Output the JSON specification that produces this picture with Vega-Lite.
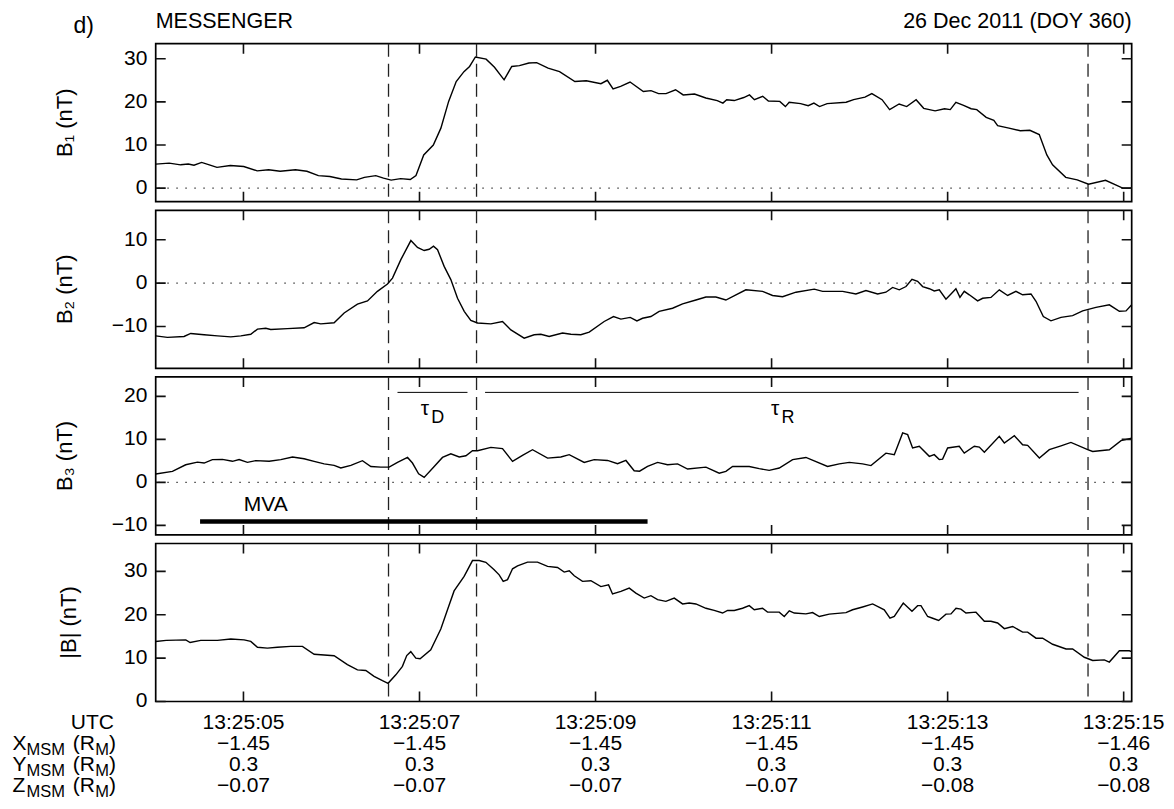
{
  "$schema": "https://vega.github.io/schema/vega-lite/v6.json",
  "background": "white",
  "padding": {"left": 11.7, "top": 9.7, "right": 10, "bottom": 5},
  "bounds": "flush",
  "spacing": 8.6,
  "datasets": {
    "zero": [{"v": 0}],
    "dashes": [{"t": 6.648}, {"t": 7.648}, {"t": 14.595}],
    "tickTimes": [{"t": 5.0}, {"t": 7.0}, {"t": 9.0}, {"t": 11.0}, {"t": 13.0}, {"t": 15.0}],
    "tickVals1": [{"v": 0.0}, {"v": 10.0}, {"v": 20.0}, {"v": 30.0}],
    "tickVals2": [{"v": -10.0}, {"v": 0.0}, {"v": 10.0}],
    "tickVals3": [{"v": -10.0}, {"v": 0.0}, {"v": 10.0}, {"v": 20.0}],
    "lab1": [{"v": 0}, {"v": 10}, {"v": 20}, {"v": 30}],
    "lab2": [{"v": -10}, {"v": 0}, {"v": 10}],
    "lab3": [{"v": -10}, {"v": 0}, {"v": 10}, {"v": 20}],
    "b1": [
      {"t":4.003,"v":5.56},{"t":4.156,"v":5.8},{"t":4.286,"v":5.4},{"t":4.373,"v":5.6},{"t":4.438,"v":5.3},{"t":4.525,"v":5.95},{"t":4.612,"v":5.4},{"t":4.699,"v":4.8},{"t":4.851,"v":5.25},{"t":5.003,"v":5.0},{"t":5.156,"v":4.0},{"t":5.286,"v":4.25},{"t":5.417,"v":3.9},{"t":5.591,"v":4.25},{"t":5.721,"v":3.9},{"t":5.851,"v":2.9},{"t":5.982,"v":2.7},{"t":6.113,"v":2.1},{"t":6.286,"v":1.9},{"t":6.374,"v":2.5},{"t":6.503,"v":2.9},{"t":6.591,"v":2.3},{"t":6.678,"v":1.85},{"t":6.786,"v":2.2},{"t":6.895,"v":2.0},{"t":6.96,"v":2.9},{"t":7.048,"v":7.7},{"t":7.157,"v":10.0},{"t":7.243,"v":13.9},{"t":7.331,"v":20.1},{"t":7.417,"v":24.7},{"t":7.505,"v":27.0},{"t":7.569,"v":28.2},{"t":7.635,"v":30.4},{"t":7.757,"v":29.9},{"t":7.852,"v":28.0},{"t":7.961,"v":25.1},{"t":8.048,"v":28.2},{"t":8.135,"v":28.4},{"t":8.243,"v":29.0},{"t":8.331,"v":29.1},{"t":8.461,"v":27.8},{"t":8.591,"v":27.0},{"t":8.765,"v":24.7},{"t":8.895,"v":24.9},{"t":9.061,"v":24.2},{"t":9.134,"v":25.0},{"t":9.199,"v":23.0},{"t":9.285,"v":23.6},{"t":9.392,"v":24.6},{"t":9.543,"v":22.4},{"t":9.63,"v":22.6},{"t":9.716,"v":21.9},{"t":9.801,"v":21.9},{"t":9.909,"v":22.8},{"t":9.996,"v":21.6},{"t":10.124,"v":21.8},{"t":10.253,"v":20.9},{"t":10.383,"v":20.3},{"t":10.447,"v":19.7},{"t":10.49,"v":20.5},{"t":10.576,"v":20.3},{"t":10.684,"v":21.0},{"t":10.749,"v":21.6},{"t":10.805,"v":20.5},{"t":10.899,"v":21.3},{"t":10.964,"v":20.2},{"t":11.093,"v":20.1},{"t":11.157,"v":18.9},{"t":11.2,"v":19.9},{"t":11.33,"v":19.6},{"t":11.416,"v":19.1},{"t":11.481,"v":19.7},{"t":11.545,"v":18.9},{"t":11.631,"v":19.6},{"t":11.847,"v":19.9},{"t":11.932,"v":20.5},{"t":12.061,"v":21.1},{"t":12.139,"v":21.9},{"t":12.255,"v":20.5},{"t":12.341,"v":18.2},{"t":12.449,"v":19.5},{"t":12.535,"v":18.9},{"t":12.642,"v":20.5},{"t":12.728,"v":18.5},{"t":12.858,"v":17.9},{"t":12.965,"v":18.4},{"t":13.03,"v":18.2},{"t":13.094,"v":19.9},{"t":13.181,"v":19.2},{"t":13.267,"v":18.4},{"t":13.331,"v":18.2},{"t":13.438,"v":16.4},{"t":13.525,"v":15.7},{"t":13.568,"v":14.5},{"t":13.697,"v":13.9},{"t":13.826,"v":13.3},{"t":13.934,"v":13.4},{"t":14.041,"v":12.4},{"t":14.127,"v":7.7},{"t":14.192,"v":5.4},{"t":14.342,"v":2.5},{"t":14.472,"v":1.9},{"t":14.601,"v":0.9},{"t":14.794,"v":1.8},{"t":14.989,"v":0.0},{"t":15.091,"v":0.0}
    ],
    "b2": [
      {"t":4.003,"v":-12.15},{"t":4.136,"v":-12.5},{"t":4.325,"v":-12.3},{"t":4.401,"v":-11.6},{"t":4.553,"v":-11.9},{"t":4.705,"v":-12.15},{"t":4.856,"v":-12.4},{"t":4.97,"v":-12.15},{"t":5.083,"v":-11.8},{"t":5.159,"v":-10.6},{"t":5.254,"v":-10.4},{"t":5.31,"v":-10.7},{"t":5.5,"v":-10.5},{"t":5.689,"v":-10.3},{"t":5.803,"v":-9.1},{"t":5.878,"v":-9.4},{"t":6.03,"v":-9.15},{"t":6.144,"v":-6.9},{"t":6.295,"v":-4.85},{"t":6.409,"v":-4.1},{"t":6.522,"v":-1.9},{"t":6.636,"v":-0.2},{"t":6.693,"v":1.15},{"t":6.788,"v":5.4},{"t":6.902,"v":9.8},{"t":6.977,"v":8.2},{"t":7.053,"v":7.5},{"t":7.11,"v":7.8},{"t":7.159,"v":8.5},{"t":7.205,"v":7.7},{"t":7.28,"v":3.85},{"t":7.356,"v":0.8},{"t":7.432,"v":-3.5},{"t":7.508,"v":-6.5},{"t":7.583,"v":-8.6},{"t":7.659,"v":-9.2},{"t":7.811,"v":-9.4},{"t":7.943,"v":-8.85},{"t":8.038,"v":-10.8},{"t":8.189,"v":-12.7},{"t":8.303,"v":-11.9},{"t":8.379,"v":-11.8},{"t":8.473,"v":-12.3},{"t":8.625,"v":-11.5},{"t":8.72,"v":-11.8},{"t":8.833,"v":-11.9},{"t":8.928,"v":-11.3},{"t":9.098,"v":-8.85},{"t":9.204,"v":-7.7},{"t":9.288,"v":-8.3},{"t":9.394,"v":-7.9},{"t":9.47,"v":-8.7},{"t":9.534,"v":-8.1},{"t":9.629,"v":-7.7},{"t":9.723,"v":-6.5},{"t":9.875,"v":-5.8},{"t":9.989,"v":-4.8},{"t":10.14,"v":-3.9},{"t":10.254,"v":-3.2},{"t":10.367,"v":-3.2},{"t":10.481,"v":-3.9},{"t":10.595,"v":-2.7},{"t":10.708,"v":-1.55},{"t":10.898,"v":-1.9},{"t":11.011,"v":-2.85},{"t":11.125,"v":-3.15},{"t":11.277,"v":-2.1},{"t":11.485,"v":-1.4},{"t":11.58,"v":-1.9},{"t":11.807,"v":-1.9},{"t":11.958,"v":-2.5},{"t":12.072,"v":-1.7},{"t":12.205,"v":-2.5},{"t":12.299,"v":-2.1},{"t":12.375,"v":-1.0},{"t":12.451,"v":-1.55},{"t":12.527,"v":-0.8},{"t":12.595,"v":0.85},{"t":12.659,"v":0.4},{"t":12.716,"v":-0.8},{"t":12.792,"v":-1.3},{"t":12.848,"v":-1.8},{"t":12.905,"v":-1.55},{"t":12.981,"v":-3.7},{"t":13.038,"v":-2.5},{"t":13.094,"v":-1.3},{"t":13.14,"v":-3.3},{"t":13.189,"v":-1.9},{"t":13.246,"v":-2.7},{"t":13.341,"v":-4.1},{"t":13.398,"v":-3.5},{"t":13.492,"v":-3.3},{"t":13.587,"v":-1.55},{"t":13.682,"v":-2.85},{"t":13.776,"v":-1.9},{"t":13.852,"v":-2.7},{"t":13.947,"v":-2.5},{"t":14.004,"v":-4.2},{"t":14.087,"v":-7.7},{"t":14.174,"v":-8.7},{"t":14.288,"v":-7.9},{"t":14.42,"v":-7.5},{"t":14.534,"v":-6.4},{"t":14.685,"v":-5.6},{"t":14.837,"v":-5.0},{"t":14.951,"v":-6.5},{"t":15.027,"v":-6.4},{"t":15.091,"v":-5.0}
    ],
    "b3": [
      {"t":4.003,"v":1.95},{"t":4.193,"v":2.55},{"t":4.344,"v":4.1},{"t":4.477,"v":4.7},{"t":4.553,"v":4.5},{"t":4.647,"v":5.3},{"t":4.761,"v":5.35},{"t":4.875,"v":4.9},{"t":4.951,"v":5.3},{"t":5.045,"v":4.65},{"t":5.14,"v":5.05},{"t":5.292,"v":4.9},{"t":5.424,"v":5.3},{"t":5.557,"v":5.9},{"t":5.689,"v":5.5},{"t":5.803,"v":4.9},{"t":5.917,"v":4.3},{"t":6.03,"v":3.95},{"t":6.106,"v":3.35},{"t":6.22,"v":3.95},{"t":6.352,"v":5.05},{"t":6.447,"v":3.7},{"t":6.56,"v":3.55},{"t":6.655,"v":3.55},{"t":6.75,"v":4.65},{"t":6.864,"v":5.8},{"t":6.92,"v":4.5},{"t":6.99,"v":2.0},{"t":7.053,"v":1.15},{"t":7.167,"v":3.7},{"t":7.261,"v":5.8},{"t":7.356,"v":6.65},{"t":7.451,"v":5.9},{"t":7.527,"v":6.2},{"t":7.602,"v":7.35},{"t":7.659,"v":7.35},{"t":7.811,"v":8.15},{"t":7.943,"v":7.85},{"t":8.057,"v":4.9},{"t":8.17,"v":6.3},{"t":8.284,"v":7.6},{"t":8.455,"v":5.65},{"t":8.606,"v":5.9},{"t":8.701,"v":6.45},{"t":8.871,"v":4.65},{"t":8.985,"v":5.3},{"t":9.136,"v":5.1},{"t":9.25,"v":4.35},{"t":9.345,"v":5.1},{"t":9.439,"v":2.7},{"t":9.5,"v":2.6},{"t":9.591,"v":3.7},{"t":9.705,"v":4.65},{"t":9.818,"v":4.1},{"t":9.932,"v":4.3},{"t":10.046,"v":3.1},{"t":10.254,"v":3.55},{"t":10.405,"v":2.15},{"t":10.481,"v":2.55},{"t":10.557,"v":3.7},{"t":10.746,"v":3.7},{"t":10.86,"v":3.2},{"t":10.973,"v":2.8},{"t":11.087,"v":3.35},{"t":11.239,"v":5.3},{"t":11.39,"v":5.8},{"t":11.636,"v":3.7},{"t":11.769,"v":4.3},{"t":11.883,"v":4.65},{"t":12.034,"v":4.3},{"t":12.129,"v":3.9},{"t":12.299,"v":6.8},{"t":12.394,"v":6.45},{"t":12.489,"v":11.5},{"t":12.546,"v":11.1},{"t":12.602,"v":8.0},{"t":12.678,"v":8.4},{"t":12.792,"v":6.05},{"t":12.848,"v":6.45},{"t":12.905,"v":5.3},{"t":12.943,"v":5.4},{"t":13.0,"v":8.0},{"t":13.132,"v":8.4},{"t":13.189,"v":6.8},{"t":13.303,"v":8.4},{"t":13.36,"v":8.2},{"t":13.417,"v":7.0},{"t":13.587,"v":10.7},{"t":13.644,"v":9.15},{"t":13.758,"v":10.85},{"t":13.852,"v":8.75},{"t":13.909,"v":8.6},{"t":14.042,"v":5.65},{"t":14.155,"v":7.6},{"t":14.288,"v":8.5},{"t":14.401,"v":9.3},{"t":14.591,"v":7.6},{"t":14.648,"v":7.2},{"t":14.837,"v":7.6},{"t":14.97,"v":9.7},{"t":15.091,"v":10.3}
    ],
    "bt": [
      {"t":4.003,"v":13.85},{"t":4.122,"v":14.1},{"t":4.345,"v":14.2},{"t":4.394,"v":13.6},{"t":4.515,"v":14.1},{"t":4.704,"v":14.1},{"t":4.856,"v":14.4},{"t":5.007,"v":14.2},{"t":5.083,"v":13.85},{"t":5.159,"v":12.5},{"t":5.272,"v":12.3},{"t":5.386,"v":12.5},{"t":5.537,"v":12.7},{"t":5.67,"v":12.7},{"t":5.803,"v":10.9},{"t":6.03,"v":10.55},{"t":6.181,"v":8.5},{"t":6.295,"v":7.3},{"t":6.39,"v":7.15},{"t":6.484,"v":5.8},{"t":6.579,"v":4.8},{"t":6.643,"v":4.2},{"t":6.731,"v":6.15},{"t":6.806,"v":8.1},{"t":6.855,"v":10.6},{"t":6.901,"v":11.5},{"t":6.958,"v":10.0},{"t":7.007,"v":9.85},{"t":7.128,"v":11.9},{"t":7.242,"v":16.7},{"t":7.318,"v":21.15},{"t":7.393,"v":25.5},{"t":7.507,"v":28.85},{"t":7.602,"v":32.5},{"t":7.678,"v":32.5},{"t":7.754,"v":32.1},{"t":7.848,"v":30.4},{"t":7.905,"v":29.2},{"t":7.951,"v":27.7},{"t":8.0,"v":28.1},{"t":8.057,"v":30.6},{"t":8.114,"v":31.3},{"t":8.227,"v":32.15},{"t":8.341,"v":32.15},{"t":8.455,"v":31.15},{"t":8.568,"v":30.9},{"t":8.644,"v":29.85},{"t":8.701,"v":30.15},{"t":8.758,"v":29.0},{"t":8.852,"v":27.7},{"t":8.947,"v":27.85},{"t":9.061,"v":26.5},{"t":9.148,"v":26.9},{"t":9.193,"v":24.8},{"t":9.288,"v":25.4},{"t":9.383,"v":26.15},{"t":9.458,"v":25.0},{"t":9.553,"v":23.85},{"t":9.629,"v":24.4},{"t":9.705,"v":23.5},{"t":9.799,"v":23.1},{"t":9.894,"v":23.85},{"t":9.989,"v":22.5},{"t":10.064,"v":22.7},{"t":10.14,"v":22.5},{"t":10.254,"v":21.5},{"t":10.348,"v":21.0},{"t":10.443,"v":20.4},{"t":10.5,"v":21.0},{"t":10.576,"v":21.0},{"t":10.67,"v":21.5},{"t":10.746,"v":22.1},{"t":10.803,"v":21.15},{"t":10.897,"v":21.5},{"t":10.954,"v":20.6},{"t":11.087,"v":20.6},{"t":11.144,"v":19.6},{"t":11.201,"v":20.9},{"t":11.258,"v":20.4},{"t":11.39,"v":20.2},{"t":11.466,"v":20.5},{"t":11.542,"v":19.6},{"t":11.655,"v":20.15},{"t":11.845,"v":20.5},{"t":11.92,"v":21.15},{"t":12.034,"v":21.8},{"t":12.148,"v":22.5},{"t":12.28,"v":21.15},{"t":12.345,"v":19.2},{"t":12.394,"v":19.6},{"t":12.496,"v":22.7},{"t":12.595,"v":20.8},{"t":12.659,"v":22.1},{"t":12.697,"v":22.1},{"t":12.773,"v":19.6},{"t":12.83,"v":19.2},{"t":12.898,"v":18.7},{"t":12.981,"v":20.15},{"t":13.038,"v":20.2},{"t":13.095,"v":21.5},{"t":13.151,"v":21.3},{"t":13.208,"v":20.4},{"t":13.322,"v":20.6},{"t":13.417,"v":18.5},{"t":13.492,"v":18.5},{"t":13.568,"v":18.1},{"t":13.644,"v":16.8},{"t":13.739,"v":17.3},{"t":13.852,"v":16.0},{"t":13.909,"v":16.0},{"t":14.004,"v":14.6},{"t":14.079,"v":14.6},{"t":14.193,"v":13.2},{"t":14.345,"v":12.1},{"t":14.42,"v":12.1},{"t":14.553,"v":10.2},{"t":14.648,"v":9.45},{"t":14.78,"v":9.6},{"t":14.837,"v":9.1},{"t":14.951,"v":11.7},{"t":15.064,"v":11.7},{"t":15.091,"v":11.5}
    ],
    "taulines": [{"t": 6.75, "t2": 7.545, "v": 20.93}, {"t": 7.745, "t2": 14.488, "v": 20.93}],
    "taulabels": [{"label": "τ", "sub": "D", "t": 7.015, "v": 15.74}, {"label": "τ", "sub": "R", "t": 10.992, "v": 15.74}],
    "mva": [{"label": "MVA", "t": 4.507, "t2": 9.591, "v": -9.07}],
    "ephem": [
      {"t":5,"row":"UTC","val":"13:25:05"},{"t":5,"row":"X","val":"−1.45"},{"t":5,"row":"Y","val":"0.3"},{"t":5,"row":"Z","val":"−0.07"},
      {"t":7,"row":"UTC","val":"13:25:07"},{"t":7,"row":"X","val":"−1.45"},{"t":7,"row":"Y","val":"0.3"},{"t":7,"row":"Z","val":"−0.07"},
      {"t":9,"row":"UTC","val":"13:25:09"},{"t":9,"row":"X","val":"−1.45"},{"t":9,"row":"Y","val":"0.3"},{"t":9,"row":"Z","val":"−0.07"},
      {"t":11,"row":"UTC","val":"13:25:11"},{"t":11,"row":"X","val":"−1.45"},{"t":11,"row":"Y","val":"0.3"},{"t":11,"row":"Z","val":"−0.07"},
      {"t":13,"row":"UTC","val":"13:25:13"},{"t":13,"row":"X","val":"−1.45"},{"t":13,"row":"Y","val":"0.3"},{"t":13,"row":"Z","val":"−0.08"},
      {"t":15,"row":"UTC","val":"13:25:15"},{"t":15,"row":"X","val":"−1.46"},{"t":15,"row":"Y","val":"0.3"},{"t":15,"row":"Z","val":"−0.08"}
    ],
    "rowlab": [
      {"row":"X","main":"X","sub":"MSM","unit":"(R","usub":"M","close":")"},
      {"row":"Y","main":"Y","sub":"MSM","unit":"(R","usub":"M","close":")"},
      {"row":"Z","main":"Z","sub":"MSM","unit":"(R","usub":"M","close":")"}
    ],
    "utc": [{"row":"UTC","label":"UTC"}]
  },
  "vconcat": [
    {
      "width": 976, "height": 158,
      "layer": [
        {"data": {"name": "zero"}, "mark": {"type": "rule", "strokeDash": [1.3, 7.7], "strokeWidth": 1.3, "color": "#222"},
         "encoding": {"y": {"field": "v", "type": "quantitative", "scale": {"domain": [-3.15, 33.48], "nice": false, "zero": false}, "axis": null}}},
        {"data": {"name": "dashes"}, "mark": {"type": "rule", "strokeDash": [13, 7], "strokeWidth": 1.3, "color": "#222"},
         "encoding": {"x": {"field": "t", "type": "quantitative", "scale": {"domain": [4.003, 15.091], "nice": false, "zero": false}, "axis": null}}},
        {"data": {"name": "b1"}, "mark": {"type": "line", "color": "black", "strokeWidth": 1.4},
         "encoding": {
           "x": {"field": "t", "type": "quantitative", "scale": {"domain": [4.003, 15.091], "nice": false, "zero": false}, "axis": null},
           "y": {"field": "v", "type": "quantitative", "scale": {"domain": [-3.15, 33.48], "nice": false, "zero": false}, "axis": null}
         }},
        {"data": {"name": "tickTimes"}, "mark": {"type": "rule", "strokeDash": [10, 138, 10, 1000], "strokeWidth": 1.6, "color": "#111"},
         "encoding": {"x": {"field": "t", "type": "quantitative", "scale": {"domain": [4.003, 15.091], "nice": false, "zero": false}, "axis": null}}},
        {"data": {"name": "tickVals1"}, "mark": {"type": "rule", "strokeDash": [10, 956, 10, 1000], "strokeWidth": 1.6, "color": "#111"},
         "encoding": {"y": {"field": "v", "type": "quantitative", "scale": {"domain": [-3.15, 33.48], "nice": false, "zero": false}, "axis": null}}},
        {"data": {"name": "lab1"}, "mark": {"type": "text", "fontSize": 21, "align": "right", "baseline": "middle", "dx": -8.3, "color": "black"},
         "encoding": {"y": {"field": "v", "type": "quantitative", "scale": {"domain": [-3.15, 33.48], "nice": false, "zero": false}, "axis": null},
                      "x": {"datum": 4.003, "type": "quantitative", "scale": {"domain": [4.003, 15.091], "nice": false, "zero": false}, "axis": null},
                      "text": {"field": "v", "type": "quantitative", "format": "d"}}},
        {"data": {"values": [{"label": "B₁ (nT)"}]}, "mark": {"type": "text", "fontSize": 22, "align": "center", "baseline": "alphabetic", "angle": 270, "color": "black"},
         "encoding": {"x": {"datum": 3.0564, "type": "quantitative", "scale": {"domain": [4.003, 15.091], "nice": false, "zero": false}, "axis": null},
                      "y": {"datum": 15.165, "type": "quantitative", "scale": {"domain": [-3.15, 33.48], "nice": false, "zero": false}, "axis": null},
                      "text": {"field": "label"}}},
        {"data": {"values": [{"label": "d)"}]}, "mark": {"type": "text", "fontSize": 23, "align": "left", "baseline": "alphabetic", "color": "black"},
         "encoding": {"x": {"datum": 3.068, "type": "quantitative", "scale": {"domain": [4.003, 15.091], "nice": false, "zero": false}, "axis": null},
                      "y": {"datum": 35.87, "type": "quantitative", "scale": {"domain": [-3.15, 33.48], "nice": false, "zero": false}, "axis": null},
                      "text": {"field": "label"}}},
        {"data": {"values": [{"label": "MESSENGER"}]}, "mark": {"type": "text", "fontSize": 21.5, "align": "left", "baseline": "alphabetic", "color": "black"},
         "encoding": {"x": {"datum": 4.003, "type": "quantitative", "scale": {"domain": [4.003, 15.091], "nice": false, "zero": false}, "axis": null},
                      "y": {"datum": 37.1, "type": "quantitative", "scale": {"domain": [-3.15, 33.48], "nice": false, "zero": false}, "axis": null},
                      "text": {"field": "label"}}},
        {"data": {"values": [{"label": "26 Dec 2011 (DOY 360)"}]}, "mark": {"type": "text", "fontSize": 21.5, "align": "right", "baseline": "alphabetic", "color": "black"},
         "encoding": {"x": {"datum": 15.091, "type": "quantitative", "scale": {"domain": [4.003, 15.091], "nice": false, "zero": false}, "axis": null},
                      "y": {"datum": 37.1, "type": "quantitative", "scale": {"domain": [-3.15, 33.48], "nice": false, "zero": false}, "axis": null},
                      "text": {"field": "label"}}}
      ]
    },
    {
      "width": 976, "height": 158,
      "layer": [
        {"data": {"name": "zero"}, "mark": {"type": "rule", "strokeDash": [1.3, 7.7], "strokeWidth": 1.3, "color": "#222"},
         "encoding": {"y": {"field": "v", "type": "quantitative", "scale": {"domain": [-19.63, 16.77], "nice": false, "zero": false}, "axis": null}}},
        {"data": {"name": "dashes"}, "mark": {"type": "rule", "strokeDash": [13, 7], "strokeWidth": 1.3, "color": "#222"},
         "encoding": {"x": {"field": "t", "type": "quantitative", "scale": {"domain": [4.003, 15.091], "nice": false, "zero": false}, "axis": null}}},
        {"data": {"name": "b2"}, "mark": {"type": "line", "color": "black", "strokeWidth": 1.4},
         "encoding": {
           "x": {"field": "t", "type": "quantitative", "scale": {"domain": [4.003, 15.091], "nice": false, "zero": false}, "axis": null},
           "y": {"field": "v", "type": "quantitative", "scale": {"domain": [-19.63, 16.77], "nice": false, "zero": false}, "axis": null}
         }},
        {"data": {"name": "tickTimes"}, "mark": {"type": "rule", "strokeDash": [10, 138, 10, 1000], "strokeWidth": 1.6, "color": "#111"},
         "encoding": {"x": {"field": "t", "type": "quantitative", "scale": {"domain": [4.003, 15.091], "nice": false, "zero": false}, "axis": null}}},
        {"data": {"name": "tickVals2"}, "mark": {"type": "rule", "strokeDash": [10, 956, 10, 1000], "strokeWidth": 1.6, "color": "#111"},
         "encoding": {"y": {"field": "v", "type": "quantitative", "scale": {"domain": [-19.63, 16.77], "nice": false, "zero": false}, "axis": null}}},
        {"data": {"name": "lab2"}, "mark": {"type": "text", "fontSize": 21, "align": "right", "baseline": "middle", "dx": -8.3, "color": "black"},
         "encoding": {"y": {"field": "v", "type": "quantitative", "scale": {"domain": [-19.63, 16.77], "nice": false, "zero": false}, "axis": null},
                      "x": {"datum": 4.003, "type": "quantitative", "scale": {"domain": [4.003, 15.091], "nice": false, "zero": false}, "axis": null},
                      "text": {"field": "v", "type": "quantitative", "format": "d"}}},
        {"data": {"values": [{"label": "B₂ (nT)"}]}, "mark": {"type": "text", "fontSize": 22, "align": "center", "baseline": "alphabetic", "angle": 270, "color": "black"},
         "encoding": {"x": {"datum": 3.0564, "type": "quantitative", "scale": {"domain": [4.003, 15.091], "nice": false, "zero": false}, "axis": null},
                      "y": {"datum": -1.43, "type": "quantitative", "scale": {"domain": [-19.63, 16.77], "nice": false, "zero": false}, "axis": null},
                      "text": {"field": "label"}}}
      ]
    },
    {
      "width": 976, "height": 158,
      "layer": [
        {"data": {"name": "zero"}, "mark": {"type": "rule", "strokeDash": [1.3, 7.7], "strokeWidth": 1.3, "color": "#222"},
         "encoding": {"y": {"field": "v", "type": "quantitative", "scale": {"domain": [-12.21, 24.53], "nice": false, "zero": false}, "axis": null}}},
        {"data": {"name": "dashes"}, "mark": {"type": "rule", "strokeDash": [13, 7], "strokeWidth": 1.3, "color": "#222"},
         "encoding": {"x": {"field": "t", "type": "quantitative", "scale": {"domain": [4.003, 15.091], "nice": false, "zero": false}, "axis": null}}},
        {"data": {"name": "b3"}, "mark": {"type": "line", "color": "black", "strokeWidth": 1.4},
         "encoding": {
           "x": {"field": "t", "type": "quantitative", "scale": {"domain": [4.003, 15.091], "nice": false, "zero": false}, "axis": null},
           "y": {"field": "v", "type": "quantitative", "scale": {"domain": [-12.21, 24.53], "nice": false, "zero": false}, "axis": null}
         }},
        {"data": {"name": "tickTimes"}, "mark": {"type": "rule", "strokeDash": [10, 138, 10, 1000], "strokeWidth": 1.6, "color": "#111"},
         "encoding": {"x": {"field": "t", "type": "quantitative", "scale": {"domain": [4.003, 15.091], "nice": false, "zero": false}, "axis": null}}},
        {"data": {"name": "tickVals3"}, "mark": {"type": "rule", "strokeDash": [10, 956, 10, 1000], "strokeWidth": 1.6, "color": "#111"},
         "encoding": {"y": {"field": "v", "type": "quantitative", "scale": {"domain": [-12.21, 24.53], "nice": false, "zero": false}, "axis": null}}},
        {"data": {"name": "lab3"}, "mark": {"type": "text", "fontSize": 21, "align": "right", "baseline": "middle", "dx": -8.3, "color": "black"},
         "encoding": {"y": {"field": "v", "type": "quantitative", "scale": {"domain": [-12.21, 24.53], "nice": false, "zero": false}, "axis": null},
                      "x": {"datum": 4.003, "type": "quantitative", "scale": {"domain": [4.003, 15.091], "nice": false, "zero": false}, "axis": null},
                      "text": {"field": "v", "type": "quantitative", "format": "d"}}},
        {"data": {"values": [{"label": "B₃ (nT)"}]}, "mark": {"type": "text", "fontSize": 22, "align": "center", "baseline": "alphabetic", "angle": 270, "color": "black"},
         "encoding": {"x": {"datum": 3.0564, "type": "quantitative", "scale": {"domain": [4.003, 15.091], "nice": false, "zero": false}, "axis": null},
                      "y": {"datum": 6.16, "type": "quantitative", "scale": {"domain": [-12.21, 24.53], "nice": false, "zero": false}, "axis": null},
                      "text": {"field": "label"}}},
        {"data": {"name": "taulines"}, "mark": {"type": "rule", "strokeWidth": 1, "color": "black"},
         "encoding": {"x": {"field": "t", "type": "quantitative", "scale": {"domain": [4.003, 15.091], "nice": false, "zero": false}, "axis": null},
                      "x2": {"field": "t2"},
                      "y": {"field": "v", "type": "quantitative", "scale": {"domain": [-12.21, 24.53], "nice": false, "zero": false}, "axis": null}}},
        {"data": {"name": "mva"}, "mark": {"type": "rule", "strokeWidth": 4.5, "color": "black"},
         "encoding": {"x": {"field": "t", "type": "quantitative", "scale": {"domain": [4.003, 15.091], "nice": false, "zero": false}, "axis": null},
                      "x2": {"field": "t2"},
                      "y": {"field": "v", "type": "quantitative", "scale": {"domain": [-12.21, 24.53], "nice": false, "zero": false}, "axis": null}}},
        {"data": {"name": "mva"}, "mark": {"type": "text", "fontSize": 21, "align": "left", "baseline": "alphabetic", "color": "black"},
         "encoding": {"x": {"datum": 5.003, "type": "quantitative", "scale": {"domain": [4.003, 15.091], "nice": false, "zero": false}, "axis": null},
                      "y": {"datum": -6.74, "type": "quantitative", "scale": {"domain": [-12.21, 24.53], "nice": false, "zero": false}, "axis": null},
                      "text": {"field": "label"}}},
        {"data": {"name": "taulabels"}, "mark": {"type": "text", "fontSize": 21, "align": "left", "baseline": "alphabetic", "color": "black"},
         "encoding": {"x": {"field": "t", "type": "quantitative", "scale": {"domain": [4.003, 15.091], "nice": false, "zero": false}, "axis": null},
                      "y": {"field": "v", "type": "quantitative", "scale": {"domain": [-12.21, 24.53], "nice": false, "zero": false}, "axis": null},
                      "text": {"field": "label"}}},
        {"data": {"name": "taulabels"}, "mark": {"type": "text", "fontSize": 18, "align": "left", "baseline": "alphabetic", "dx": 10.5, "dy": 8, "color": "black"},
         "encoding": {"x": {"field": "t", "type": "quantitative", "scale": {"domain": [4.003, 15.091], "nice": false, "zero": false}, "axis": null},
                      "y": {"field": "v", "type": "quantitative", "scale": {"domain": [-12.21, 24.53], "nice": false, "zero": false}, "axis": null},
                      "text": {"field": "sub"}}}
      ]
    },
    {
      "width": 976, "height": 158,
      "layer": [
        {"data": {"name": "dashes"}, "mark": {"type": "rule", "strokeDash": [13, 7], "strokeWidth": 1.3, "color": "#222"},
         "encoding": {"x": {"field": "t", "type": "quantitative", "scale": {"domain": [4.003, 15.091], "nice": false, "zero": false}, "axis": null}}},
        {"data": {"name": "bt"}, "mark": {"type": "line", "color": "black", "strokeWidth": 1.4},
         "encoding": {
           "x": {"field": "t", "type": "quantitative", "scale": {"domain": [4.003, 15.091], "nice": false, "zero": false}, "axis": null},
           "y": {"field": "v", "type": "quantitative", "scale": {"domain": [0, 36.44], "nice": false, "zero": false}, "axis": null}
         }},
        {"data": {"name": "tickTimes"}, "mark": {"type": "rule", "strokeDash": [10, 138, 10, 1000], "strokeWidth": 1.6, "color": "#111"},
         "encoding": {"x": {"field": "t", "type": "quantitative", "scale": {"domain": [4.003, 15.091], "nice": false, "zero": false}, "axis": null}}},
        {"data": {"name": "tickVals1"}, "mark": {"type": "rule", "strokeDash": [10, 956, 10, 1000], "strokeWidth": 1.6, "color": "#111"},
         "encoding": {"y": {"field": "v", "type": "quantitative", "scale": {"domain": [0, 36.44], "nice": false, "zero": false}, "axis": null}}},
        {"data": {"name": "lab1"}, "mark": {"type": "text", "fontSize": 21, "align": "right", "baseline": "middle", "dx": -8.3, "color": "black"},
         "encoding": {"y": {"field": "v", "type": "quantitative", "scale": {"domain": [0, 36.44], "nice": false, "zero": false}, "axis": null},
                      "x": {"datum": 4.003, "type": "quantitative", "scale": {"domain": [4.003, 15.091], "nice": false, "zero": false}, "axis": null},
                      "text": {"field": "v", "type": "quantitative", "format": "d"}}},
        {"data": {"values": [{"label": "|B| (nT)"}]}, "mark": {"type": "text", "fontSize": 22, "align": "center", "baseline": "alphabetic", "angle": 270, "color": "black"},
         "encoding": {"x": {"datum": 3.094, "type": "quantitative", "scale": {"domain": [4.003, 15.091], "nice": false, "zero": false}, "axis": null},
                      "y": {"datum": 18.22, "type": "quantitative", "scale": {"domain": [0, 36.44], "nice": false, "zero": false}, "axis": null},
                      "text": {"field": "label"}}}
      ]
    },
    {
      "width": 976, "height": 84.8,
      "view": {"stroke": null},
      "layer": [
        {"data": {"name": "ephem"}, "mark": {"type": "text", "fontSize": 21, "align": "center", "baseline": "alphabetic", "yOffset": 8, "color": "black"},
         "encoding": {"x": {"field": "t", "type": "quantitative", "scale": {"domain": [4.003, 15.091], "nice": false, "zero": false}, "axis": null},
                      "y": {"field": "row", "type": "nominal", "scale": {"type": "point", "domain": ["UTC", "X", "Y", "Z"], "padding": 0.5}, "axis": null},
                      "text": {"field": "val"}}},
        {"data": {"name": "utc"}, "mark": {"type": "text", "fontSize": 21, "align": "right", "baseline": "alphabetic", "yOffset": 8, "color": "black"},
         "encoding": {"x": {"datum": 3.529, "type": "quantitative", "scale": {"domain": [4.003, 15.091], "nice": false, "zero": false}, "axis": null},
                      "y": {"field": "row", "type": "nominal", "scale": {"type": "point", "domain": ["UTC", "X", "Y", "Z"], "padding": 0.5}, "axis": null},
                      "text": {"field": "label"}}},
        {"data": {"name": "rowlab"}, "mark": {"type": "text", "fontSize": 21, "align": "left", "baseline": "alphabetic", "yOffset": 8, "color": "black"},
         "encoding": {"x": {"datum": 2.375, "type": "quantitative", "scale": {"domain": [4.003, 15.091], "nice": false, "zero": false}, "axis": null},
                      "y": {"field": "row", "type": "nominal", "scale": {"type": "point", "domain": ["UTC", "X", "Y", "Z"], "padding": 0.5}, "axis": null},
                      "text": {"field": "main"}}},
        {"data": {"name": "rowlab"}, "mark": {"type": "text", "fontSize": 16.5, "align": "left", "baseline": "alphabetic", "yOffset": 13, "color": "black"},
         "encoding": {"x": {"datum": 2.536, "type": "quantitative", "scale": {"domain": [4.003, 15.091], "nice": false, "zero": false}, "axis": null},
                      "y": {"field": "row", "type": "nominal", "scale": {"type": "point", "domain": ["UTC", "X", "Y", "Z"], "padding": 0.5}, "axis": null},
                      "text": {"field": "sub"}}},
        {"data": {"name": "rowlab"}, "mark": {"type": "text", "fontSize": 21, "align": "left", "baseline": "alphabetic", "yOffset": 8, "color": "black"},
         "encoding": {"x": {"datum": 3.06, "type": "quantitative", "scale": {"domain": [4.003, 15.091], "nice": false, "zero": false}, "axis": null},
                      "y": {"field": "row", "type": "nominal", "scale": {"type": "point", "domain": ["UTC", "X", "Y", "Z"], "padding": 0.5}, "axis": null},
                      "text": {"field": "unit"}}},
        {"data": {"name": "rowlab"}, "mark": {"type": "text", "fontSize": 16.5, "align": "left", "baseline": "alphabetic", "yOffset": 13, "color": "black"},
         "encoding": {"x": {"datum": 3.315, "type": "quantitative", "scale": {"domain": [4.003, 15.091], "nice": false, "zero": false}, "axis": null},
                      "y": {"field": "row", "type": "nominal", "scale": {"type": "point", "domain": ["UTC", "X", "Y", "Z"], "padding": 0.5}, "axis": null},
                      "text": {"field": "usub"}}},
        {"data": {"name": "rowlab"}, "mark": {"type": "text", "fontSize": 21, "align": "left", "baseline": "alphabetic", "yOffset": 8, "color": "black"},
         "encoding": {"x": {"datum": 3.472, "type": "quantitative", "scale": {"domain": [4.003, 15.091], "nice": false, "zero": false}, "axis": null},
                      "y": {"field": "row", "type": "nominal", "scale": {"type": "point", "domain": ["UTC", "X", "Y", "Z"], "padding": 0.5}, "axis": null},
                      "text": {"field": "close"}}}
      ]
    }
  ],
  "config": {
    "font": "Liberation Sans",
    "view": {"stroke": "black", "strokeWidth": 1.7},
    "text": {"font": "Liberation Sans"}
  }
}
